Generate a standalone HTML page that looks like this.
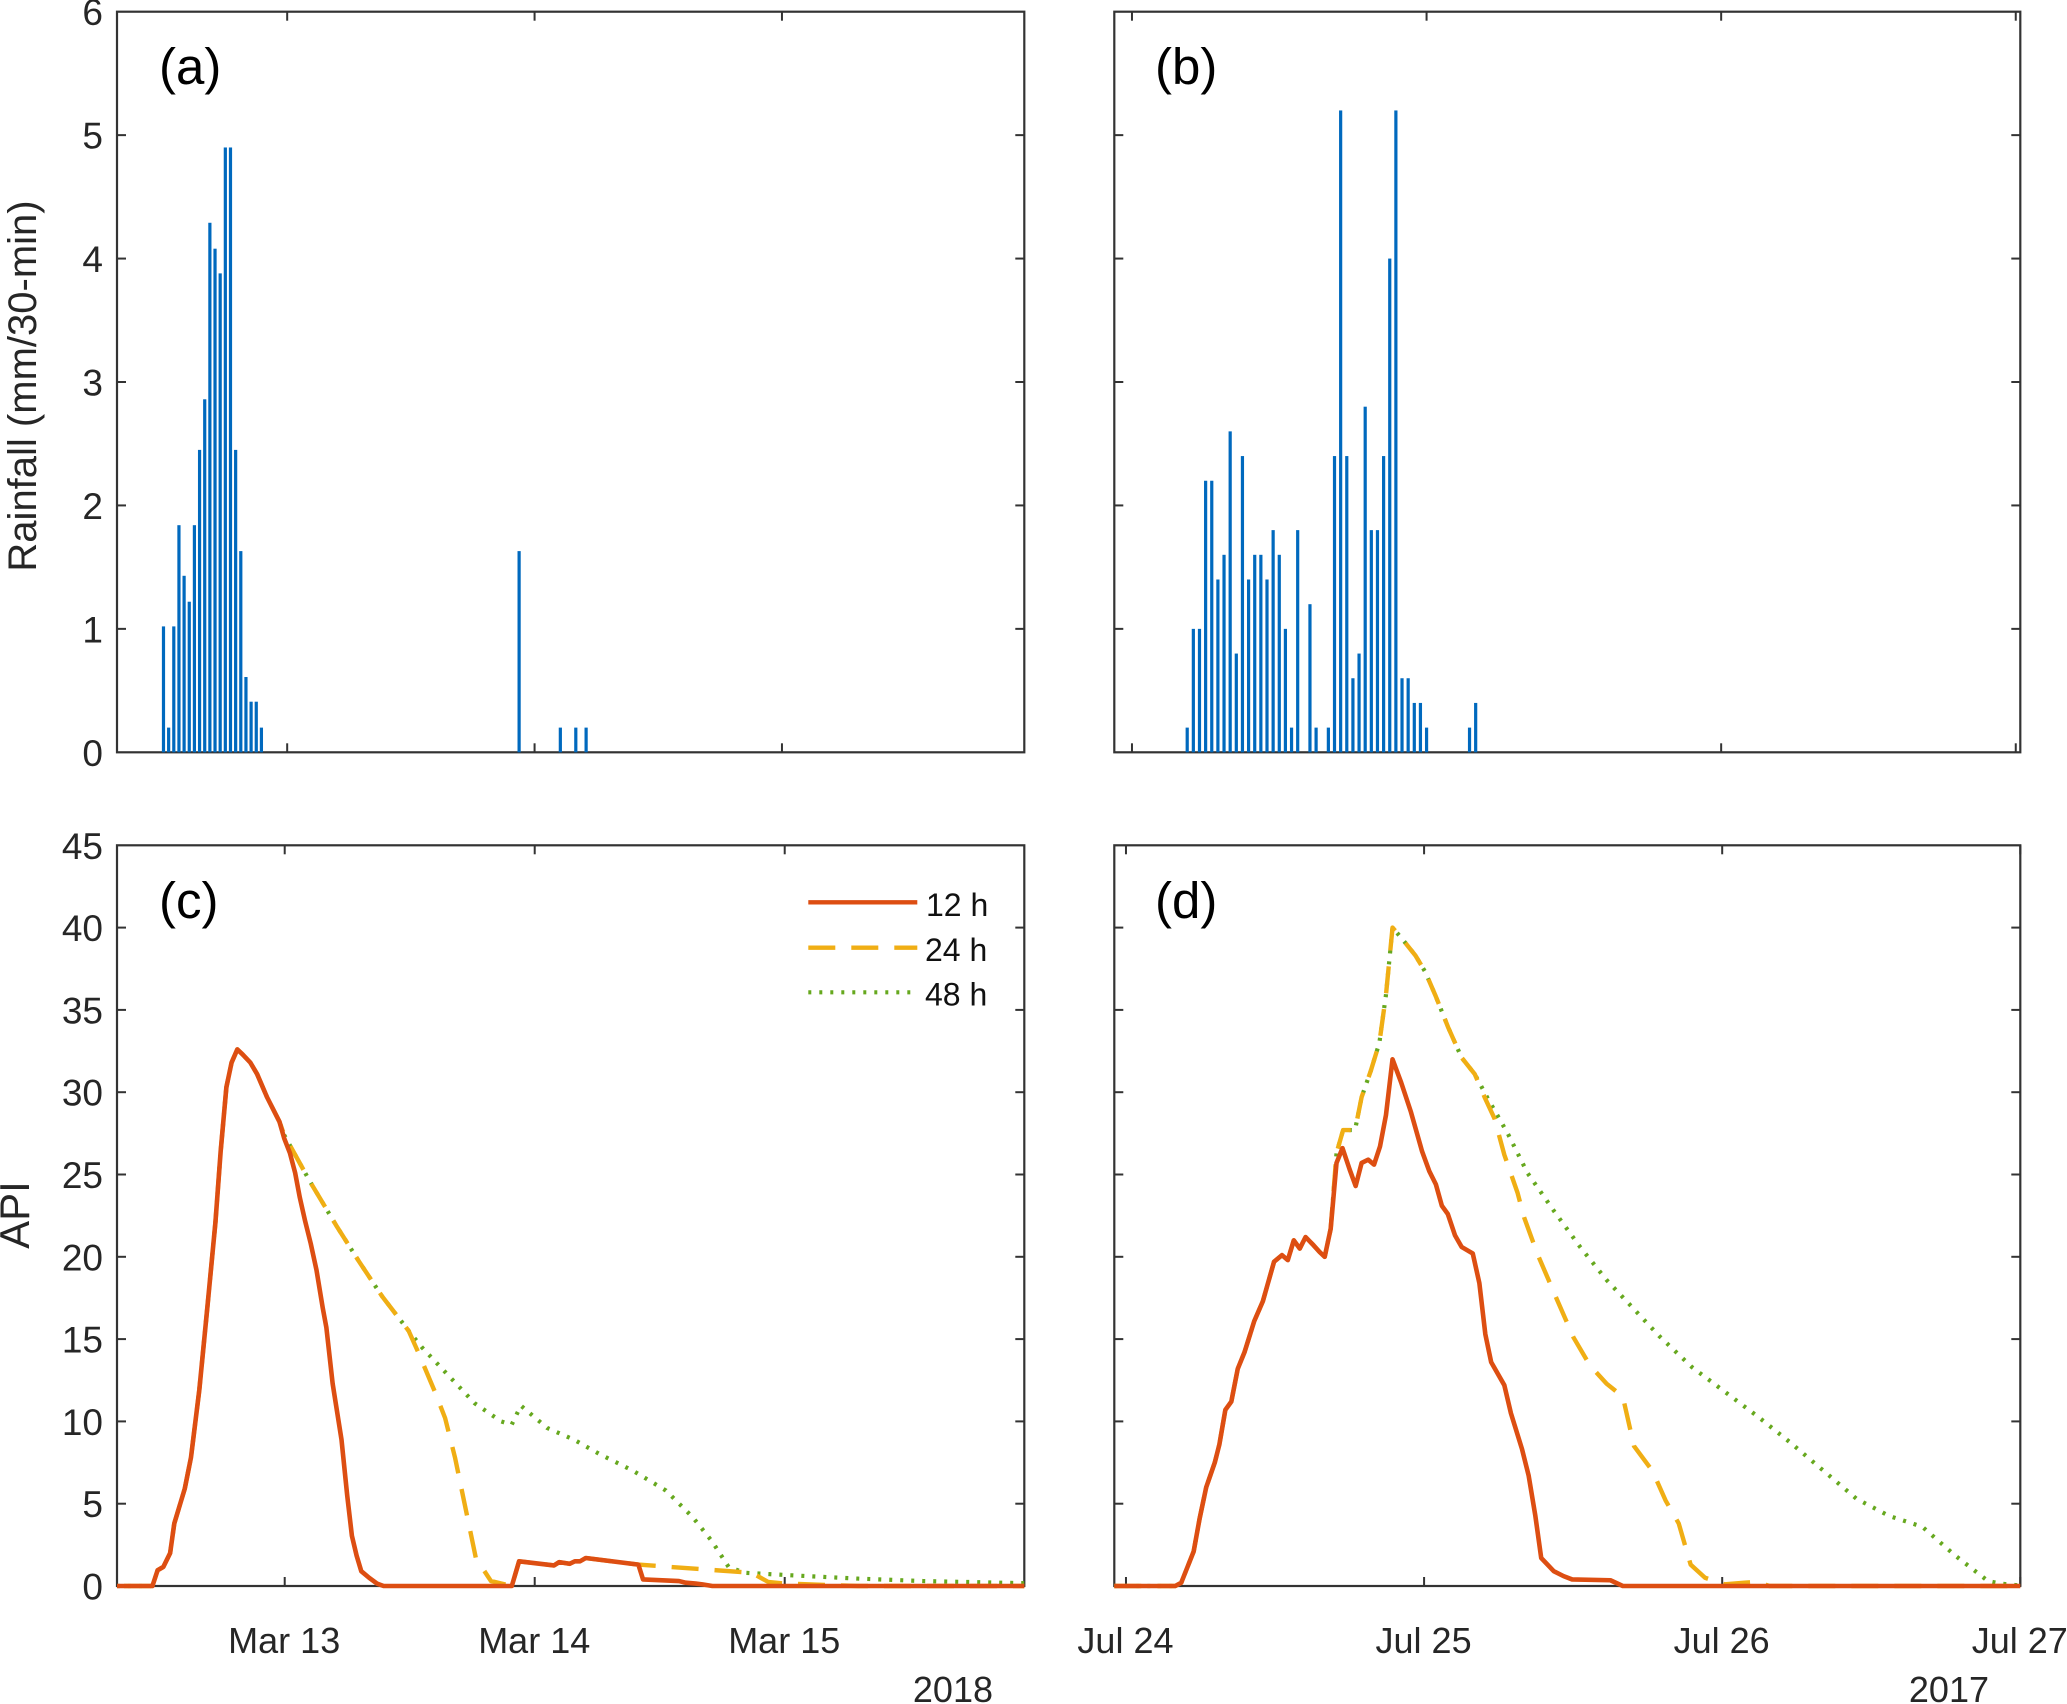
<!DOCTYPE html>
<html lang="en">
<head>
<meta charset="utf-8">
<title>Rainfall and API time series</title>
<style>
html,body{margin:0;padding:0;background:#fff;}
svg{display:block;}
text{font-family:"Liberation Sans",Arial,sans-serif;fill:#262626;}
</style>
</head>
<body>
<svg id="chart" xmlns="http://www.w3.org/2000/svg" width="2067" height="1704" viewBox="0 0 2067 1704">
  <rect x="0" y="0" width="2067" height="1704" fill="#fff"/>
  <g id="layer-frames"></g>
  <g id="layer-marks"></g>
  <g id="layer-labels"></g>

  <text transform="translate(36,386) rotate(-90)" text-anchor="middle" font-size="40">Rainfall (mm/30-min)</text>
  <text transform="translate(29,1215) rotate(-90)" text-anchor="middle" font-size="42">API</text>

  <text x="159" y="84" font-size="51" style="fill:#000">(a)</text>
  <text x="1155" y="84" font-size="51" style="fill:#000">(b)</text>
  <text x="159" y="918" font-size="51" style="fill:#000">(c)</text>
  <text x="1155" y="918" font-size="51" style="fill:#000">(d)</text>

  <text x="993" y="1702" text-anchor="end" font-size="36">2018</text>
  <text x="1989" y="1702" text-anchor="end" font-size="36">2017</text>

  <g>
    <line x1="808.3" x2="917.3" y1="902.3" y2="902.3" stroke="#DD4E12" stroke-width="4.4"/>
    <line x1="808.3" x2="917.3" y1="947.7" y2="947.7" stroke="#F0AE14" stroke-width="4.4" stroke-dasharray="27 16"/>
    <line x1="808.3" x2="911" y1="992.3" y2="992.3" stroke="#66A81E" stroke-width="4.2" stroke-dasharray="3 8"/>
    <text x="926" y="916" font-size="32" style="fill:#111">12 h</text>
    <text x="925" y="961" font-size="32" style="fill:#111">24 h</text>
    <text x="925" y="1005.5" font-size="32" style="fill:#111">48 h</text>
  </g>
</svg>

<script>
// ---- Chart data (hours are measured from 00:00 of the first labelled day) ----
const rainHoursA = [-12,-11.5,-11,-10.5,-10,-9.5,-9,-8.5,-8,-7.5,-7,-6.5,-6,-5.5,-5,-4.5,-4,-3.5,-3,-2.5,22.5,26.5,28,29];
const rainValuesA = [1.02,0.2,1.02,1.84,1.43,1.22,1.84,2.45,2.86,4.29,4.08,3.88,4.9,4.9,2.45,1.63,0.61,0.41,0.41,0.2,1.63,0.2,0.2,0.2];
const rainHoursB = [4.5,5,5.5,6,6.5,7,7.5,8,8.5,9,9.5,10,10.5,11,11.5,12,12.5,13,13.5,14.5,15,16,16.5,17,17.5,18,18.5,19,19.5,20,20.5,21,21.5,22,22.5,23,23.5,24,27.5,28];
const rainValuesB = [0.2,1,1,2.2,2.2,1.4,1.6,2.6,0.8,2.4,1.4,1.6,1.6,1.4,1.8,1.6,1,0.2,1.8,1.2,0.2,0.2,2.4,5.2,2.4,0.6,0.8,2.8,1.8,1.8,2.4,4,5.2,0.6,0.6,0.4,0.4,0.2,0.2,0.4];

const hoursC12 = [-16.1,-12.7,-12.2,-11.65,-11,-10.6,-9.6,-9,-8.2,-7.4,-6.65,-6.15,-5.6,-5.1,-4.55,-4.05,-3.3,-2.65,-1.7,-0.5,-0.05,0.5,1,1.45,1.95,2.5,3.05,3.65,4,4.6,5.45,6,6.45,6.9,7.35,8.1,8.85,9.5,21.8,22.5,25.85,26.35,27.35,27.85,28.35,28.9,33.95,34.4,37.85,38.5,39.45,40.1,41.05,71];
const apiC12 = [0,0,0.96,1.16,2,3.8,5.9,7.8,11.9,17.1,22.1,26.4,30.3,31.8,32.6,32.3,31.8,31.1,29.7,28.2,27.2,26.3,25.1,23.6,22.2,20.8,19.2,16.9,15.7,12.3,8.9,5.5,3.05,1.85,0.9,0.5,0.15,0,0,1.5,1.25,1.45,1.35,1.5,1.5,1.7,1.3,0.4,0.3,0.2,0.15,0.1,0,0];
const hoursC24 = [-16.1,-12.7,-12.2,-11.65,-11,-10.6,-9.6,-9,-8.2,-7.4,-6.65,-6.15,-5.6,-5.1,-4.55,-4.05,-3.3,-2.65,-1.7,-0.5,-0.05,2.4,4.95,7.15,9.35,11.9,12.85,14.45,15.4,16.35,17.3,18.35,19.8,21.8,22.5,25.85,26.35,27.35,27.85,28.35,28.9,33.95,44.85,46.4,48,52.45,55,71];
const apiC24 = [0,0,0.96,1.16,2,3.8,5.9,7.8,11.9,17.1,22.1,26.4,30.3,31.8,32.6,32.3,31.8,31.1,29.7,28.2,27.4,24.6,21.9,19.7,17.6,15.5,14.15,11.75,10.2,7.8,4.9,1.7,0.3,0,1.5,1.25,1.45,1.35,1.5,1.5,1.7,1.3,0.8,0.25,0.15,0.05,0,0];
const hoursC48 = [-16.1,-12.7,-12.2,-11.65,-11,-10.6,-9.6,-9,-8.2,-7.4,-6.65,-6.15,-5.6,-5.1,-4.55,-4.05,-3.3,-2.65,-1.7,-0.5,-0.05,2.4,4.95,7.15,9.35,11.9,13.17,15.7,18.24,20.77,21.79,22.67,25.2,27.74,30.27,33.44,36.6,39.14,41.04,42.62,44.2,48.64,54.97,61.3,71];
const apiC48 = [0,0,0.96,1.16,2,3.8,5.9,7.8,11.9,17.1,22.1,26.4,30.3,31.8,32.6,32.3,31.8,31.1,29.7,28.2,27.4,24.6,21.9,19.7,17.6,15.5,14.5,12.8,11.1,10,9.8,10.96,9.6,8.9,8,7,5.8,4.2,2.7,1.15,0.8,0.65,0.45,0.3,0.17];

const hoursD12 = [-0.94,3.97,4.45,5.45,5.93,6.46,7.15,7.52,8,8.48,9,9.54,10.33,11.02,11.92,12.56,13.03,13.51,13.99,14.46,15.1,15.58,16,16.48,16.95,17.43,18.01,18.49,18.97,19.5,19.97,20.45,20.93,21.46,22.15,22.94,23.84,24.42,24.95,25.43,25.91,26.49,27.02,27.92,28.45,28.93,29.4,30.46,30.99,31.89,32.42,32.95,33.43,34.44,35.23,35.92,39,40,72];
const apiD12 = [0,0,0.2,2.1,4.1,6,7.5,8.6,10.7,11.2,13.2,14.2,16.1,17.3,19.7,20.1,19.8,21,20.5,21.2,20.7,20.3,20,21.7,25.7,26.6,25.3,24.3,25.7,25.9,25.6,26.7,28.6,32,30.6,28.8,26.4,25.2,24.4,23.1,22.6,21.3,20.6,20.2,18.4,15.3,13.6,12.2,10.5,8.3,6.7,4.3,1.7,0.9,0.6,0.4,0.35,0,0];
const hoursD24 = [-0.94,3.97,4.45,5.45,5.93,6.46,7.15,7.52,8,8.48,9,9.54,10.33,11.02,11.92,12.56,13.03,13.51,13.99,14.46,15.1,15.58,16,16.48,16.95,17.48,18.44,18.97,19.71,20.4,20.93,21.46,22.25,23.31,24.1,24.9,25.96,27.02,28.08,28.87,29.67,30.46,31.52,32.05,33.11,34.7,36.03,37.35,38.68,40,40.9,42.38,43.44,44.5,45.46,46.62,48.2,49.8,50.86,51.8,72];
const apiD24 = [0,0,0.2,2.1,4.1,6,7.5,8.6,10.7,11.2,13.2,14.2,16.1,17.3,19.7,20.1,19.8,21,20.5,21.2,20.7,20.3,20,21.7,26.3,27.7,27.7,29.7,31.3,33,35.9,40,39.3,38.3,37.3,35.9,33.9,32.1,31.1,29.7,28.4,26.2,23.9,22.4,20.2,17.4,15.1,13.4,12.3,11.5,8.5,7,5.2,3.8,1.3,0.5,0.1,0.2,0.25,0,0];
const hoursD48 = [-0.94,3.97,4.45,5.45,5.93,6.46,7.15,7.52,8,8.48,9,9.54,10.33,11.02,11.92,12.56,13.03,13.51,13.99,14.46,15.1,15.58,16,16.48,16.95,17.48,18.44,18.97,19.71,20.4,20.93,21.46,22.25,23.31,24.1,24.9,25.96,27.02,28.08,29.14,30.73,32.32,34.44,36.56,38.68,40.8,42.91,45.56,48.21,50.86,53.51,56.16,58.81,61.46,64.11,66.76,69.4,70.46,72];
const apiD48 = [0,0,0.2,2.1,4.1,6,7.5,8.6,10.7,11.2,13.2,14.2,16.1,17.3,19.7,20.1,19.8,21,20.5,21.2,20.7,20.3,20,21.7,26.3,27.7,27.7,29.7,31.3,33,35.9,40,39.3,38.3,37.3,35.9,33.9,32.1,31.1,29.6,27.5,25.1,22.8,20.6,18.6,16.9,15.2,13.3,11.8,10.3,8.7,7,5.3,4.25,3.6,1.85,0.3,0.14,0.03];

const rainTicks = [0,1,2,3,4,5,6];
const apiTicks = [0,5,10,15,20,25,30,35,40,45];
const tickHoursMar = [0,24,48];
const tickHoursJul = [0,24,48,72];
const tickLabelsMar = ["Mar 13","Mar 14","Mar 15"];
const tickLabelsJul = ["Jul 24","Jul 25","Jul 26","Jul 27"];

// ---- Layout ----
const NS = "http://www.w3.org/2000/svg";
const frames = document.getElementById("layer-frames");
const marks = document.getElementById("layer-marks");
const labels = document.getElementById("layer-labels");

const panelA = {id:"a", l:117, r:1024.3, t:11.7, b:752.3, h0:-16.51, h1:71.51, y1:6, yt:rainTicks, xt:tickHoursMar};
const panelB = {id:"b", l:1114.3, r:2020.3, t:11.7, b:752.3, h0:-1.44, h1:72.37, y1:6, yt:rainTicks, xt:tickHoursJul};
const panelC = {id:"c", l:117, r:1024.3, t:845.3, b:1586, h0:-16.1, h1:71, y1:45, yt:apiTicks, xt:tickHoursMar};
const panelD = {id:"d", l:1114.3, r:2020.3, t:845.3, b:1586, h0:-0.94, h1:72, y1:45, yt:apiTicks, xt:tickHoursJul};

function xScale(p, hour){ return p.l + (hour - p.h0) / (p.h1 - p.h0) * (p.r - p.l); }
function yScale(p, value){ return p.b - value / p.y1 * (p.b - p.t); }

function seg(parent, x1, y1, x2, y2, color, width){
  const el = document.createElementNS(NS, "line");
  el.setAttribute("x1", x1);
  el.setAttribute("y1", y1);
  el.setAttribute("x2", x2);
  el.setAttribute("y2", y2);
  el.setAttribute("stroke", color);
  el.setAttribute("stroke-width", width);
  parent.appendChild(el);
  return el;
}

function drawFrame(p, showY){
  const AX = "#333333", TICK = 9;
  const box = document.createElementNS(NS, "rect");
  box.setAttribute("x", p.l);
  box.setAttribute("y", p.t);
  box.setAttribute("width", p.r - p.l);
  box.setAttribute("height", p.b - p.t);
  box.setAttribute("fill", "none");
  box.setAttribute("stroke", AX);
  box.setAttribute("stroke-width", 2.2);
  
  
  frames.appendChild(box);
  p.yt.forEach(function(v){
    const y = yScale(p, v);
    if (v > 0 && v < p.y1) {
      const left = seg(frames, p.l, y, p.l + TICK, y, AX, 2);
      
      
      const right = seg(frames, p.r - TICK, y, p.r, y, AX, 2);
      
      
    }
    if (showY) {
      const t = document.createElementNS(NS, "text");
      t.setAttribute("x", 103);
      t.setAttribute("y", y + 13.5);
      t.setAttribute("text-anchor", "end");
      t.setAttribute("font-size", "37");
      t.textContent = String(v);
      
      
      labels.appendChild(t);
    }
  });
  p.xt.forEach(function(h){
    const x = xScale(p, h);
    const top = seg(frames, x, p.t, x, p.t + TICK, AX, 2);
    
    
    const bot = seg(frames, x, p.b - TICK, x, p.b, AX, 2);
    
    
  });
}

function drawXLabels(p, names){
  p.xt.forEach(function(h, i){
    const t = document.createElementNS(NS, "text");
    t.setAttribute("x", xScale(p, h) - 0.5);
    t.setAttribute("y", 1653);
    t.setAttribute("text-anchor", "middle");
    t.setAttribute("font-size", "36");
    t.textContent = names[i];
    
    
    labels.appendChild(t);
  });
}

function drawBars(p, hours, values){
  hours.forEach(function(h, i){
    const x = xScale(p, h);
    const y = yScale(p, values[i]);
    const bar = document.createElementNS(NS, "rect");
    bar.setAttribute("x", x - 1.6);
    bar.setAttribute("y", y);
    bar.setAttribute("width", 3.2);
    bar.setAttribute("height", p.b - y);
    bar.setAttribute("fill", "#0069BE");
    
    
    marks.appendChild(bar);
  });
}

function drawLine(p, hours, values, color, width, dash, offset, name){
  const pts = hours.map(function(h, i){
    return xScale(p, h).toFixed(2) + "," + yScale(p, values[i]).toFixed(2);
  }).join(" ");
  const line = document.createElementNS(NS, "polyline");
  line.setAttribute("points", pts);
  line.setAttribute("fill", "none");
  line.setAttribute("stroke", color);
  line.setAttribute("stroke-width", width);
  line.setAttribute("stroke-linejoin", "round");
  if (dash) {
    line.setAttribute("stroke-dasharray", dash);
    line.setAttribute("stroke-dashoffset", offset);
  }
  
  
  marks.appendChild(line);
}

drawFrame(panelA, true);
drawFrame(panelB, false);
drawFrame(panelC, true);
drawFrame(panelD, false);
drawXLabels(panelC, tickLabelsMar);
drawXLabels(panelD, tickLabelsJul);

drawBars(panelA, rainHoursA, rainValuesA);
drawBars(panelB, rainHoursB, rainValuesB);

drawLine(panelC, hoursC48, apiC48, "#66A81E", 4.2, "3 8", 0, "line-c-48h");
drawLine(panelC, hoursC24, apiC24, "#F0AE14", 4.4, "27 16", -7, "line-c-24h");
drawLine(panelC, hoursC12, apiC12, "#DD4E12", 4.6, null, 0, "line-c-12h");
drawLine(panelD, hoursD48, apiD48, "#66A81E", 4.2, "3 8", 0, "line-d-48h");
drawLine(panelD, hoursD24, apiD24, "#F0AE14", 4.4, "27 16", 0, "line-d-24h");
drawLine(panelD, hoursD12, apiD12, "#DD4E12", 4.6, null, 0, "line-d-12h");
</script>
</body>
</html>
